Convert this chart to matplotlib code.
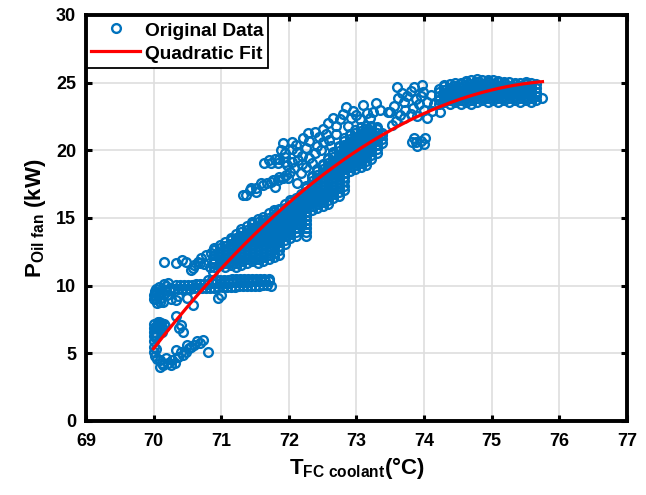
import numpy as np
import matplotlib
matplotlib.use("Agg")
import matplotlib.pyplot as plt

# ============ data ============
# bottom-left group (4-8 kW)
low_x = [70.00, 70.00, 70.00, 70.04, 70.05, 70.06, 70.09, 70.10, 70.13, 70.15, 70.02, 70.00, 70.00, 70.01, 70.02, 70.04, 70.05,
         70.02, 70.07, 70.12, 70.08, 70.03, 70.11, 70.17, 70.00,
         70.33, 70.41, 70.43, 70.38,
         70.09, 70.14, 70.21, 70.26, 70.28, 70.09, 70.19, 70.36, 70.43, 70.48, 70.53, 70.60, 70.68, 70.73, 70.80,
         70.33, 70.56, 70.64, 70.40, 70.50, 70.12, 70.31]
low_y = [6.6, 6.9, 7.2, 6.5, 7.0, 7.3, 6.7, 7.1, 6.9, 7.2, 6.2, 5.9, 5.5, 5.1, 4.8, 5.3, 4.6,
         6.35, 6.8, 6.6, 7.35, 7.05, 7.25, 7.0, 6.3,
         7.76, 7.1, 6.6, 6.9,
         4.01, 4.14, 4.26, 4.14, 4.51, 4.5, 4.63, 4.75, 4.88, 5.12, 5.37, 5.62, 5.74, 5.99, 5.12,
         5.25, 5.5, 5.9, 5.1, 5.6, 4.3, 4.3]

# band around 10 kW
band_x = [70.00, 70.00, 70.02, 70.05, 70.06, 70.08, 70.10, 70.12, 70.14, 70.15, 70.18, 70.20, 70.22, 70.25,
          70.03, 70.04, 70.09, 70.11, 70.16, 70.19, 70.03,
          70.30, 70.36, 70.42, 70.48, 70.54, 70.60, 70.66, 70.72, 70.78, 70.84, 70.90, 70.96, 71.02,
          71.08, 71.14, 71.20, 71.26, 71.32, 71.38, 71.44, 71.50, 71.56, 71.62, 71.68, 71.73,
          70.33, 70.39, 70.45, 70.51, 70.57, 70.63, 70.69, 70.75, 70.81, 70.87, 70.93, 70.99,
          71.05, 71.11, 71.17, 71.23, 71.29, 71.35, 71.41, 71.47, 71.53, 71.59, 71.65, 71.71,
          70.80, 70.86, 70.92, 70.98, 71.04, 71.10, 71.16, 71.22, 71.28, 71.34, 71.40, 71.46,
          71.52, 71.58, 71.64, 71.70,
          70.33, 70.36, 70.58, 70.95, 71.00, 70.50, 70.26]
band_y = [9.3, 9.0, 9.6, 8.7, 9.2, 9.9, 8.8, 9.5, 8.82, 10.1, 9.7, 9.3, 10.2, 9.8,
          9.45, 9.0, 9.35, 9.1, 9.4, 9.95, 9.75,
          9.72, 9.74, 9.76, 9.76, 9.78, 9.8, 9.8, 9.82, 9.84, 9.83, 9.86, 9.88, 9.88,
          9.9, 9.92, 9.92, 9.94, 9.96, 9.96, 9.98, 10.0, 10.0, 10.02, 10.03, 10.0,
          10.02, 10.04, 10.05, 10.07, 10.08, 10.1, 10.12, 10.13, 10.15, 10.16, 10.18, 10.2,
          10.21, 10.22, 10.24, 10.25, 10.27, 10.28, 10.3, 10.31, 10.32, 10.33, 10.34, 10.35,
          10.4, 10.41, 10.42, 10.43, 10.44, 10.45, 10.46, 10.47, 10.48, 10.49, 10.5, 10.5,
          10.51, 10.52, 10.52, 10.5,
          8.94, 9.2, 8.57, 9.07, 9.3, 9.1, 9.0]

# loose circles at 11-12.5 kW, left of the main cloud
ul_x = [70.16, 70.33, 70.42, 70.48, 70.56, 70.60, 70.65, 70.70, 70.74, 70.78, 70.83, 70.85, 70.88,
        70.58, 70.68, 70.90, 70.97]
ul_y = [11.77, 11.66, 11.9, 11.77, 11.16, 11.5, 11.77, 12.03, 11.6, 12.27, 11.4, 12.4, 11.03,
        11.28, 11.65, 11.77, 11.53]

# main dense cloud, column by column
cloud_cols = [70.90, 70.98, 71.06, 71.14, 71.22, 71.30, 71.38, 71.46, 71.54, 71.62, 71.70, 71.78,
              71.86, 71.94, 72.02, 72.10, 72.18, 72.26, 72.34, 72.42, 72.50, 72.58, 72.66, 72.74,
              72.82, 72.90, 72.98, 73.06, 73.14, 73.22, 73.30, 73.38]
cloud_rows = [
    [11.4, 11.7, 12.0, 12.3, 12.6, 12.8],
    [11.55, 11.85, 12.15, 12.45, 12.75, 13.0],
    [11.4, 11.7, 12.0, 12.3, 12.6, 12.9, 13.25],
    [11.55, 11.85, 12.15, 12.45, 12.75, 13.05, 13.35, 13.5],
    [11.4, 11.7, 12.0, 12.3, 12.6, 12.9, 13.2, 13.5, 13.8],
    [11.55, 11.85, 12.15, 12.45, 12.75, 13.05, 13.35, 13.65, 13.95, 14.2],
    [11.7, 12.0, 12.3, 12.6, 12.9, 13.2, 13.5, 13.8, 14.1, 14.4],
    [11.85, 12.15, 12.45, 12.75, 13.05, 13.35, 13.65, 13.95, 14.25, 14.55, 14.7],
    [11.7, 12.0, 12.3, 12.6, 12.9, 13.2, 13.5, 13.8, 14.1, 14.4, 14.7, 14.9],
    [11.85, 12.15, 12.45, 12.75, 13.05, 13.35, 13.65, 13.95, 14.25, 14.55, 14.85, 15.1],
    [12.0, 12.3, 12.6, 12.9, 13.2, 13.5, 13.8, 14.1, 14.4, 14.7, 15.0, 15.35],
    [12.15, 12.45, 12.75, 13.05, 13.35, 13.65, 13.95, 14.25, 14.55, 14.85, 15.15, 15.45, 15.6],
    [12.3, 12.6, 12.9, 13.2, 13.5, 13.8, 14.1, 14.4, 14.7, 15.0, 15.3, 15.6, 15.7],
    [13.05, 13.35, 13.65, 13.95, 14.25, 14.55, 14.85, 15.15, 15.45, 15.75, 16.0],
    [13.5, 13.8, 14.1, 14.4, 14.7, 15.0, 15.3, 15.6, 15.9, 16.2, 16.3],
    [13.65, 13.95, 14.25, 14.55, 14.85, 15.15, 15.45, 15.75, 16.05, 16.35, 16.5],
    [14.4, 14.7, 15.0, 15.3, 15.6, 15.9, 16.2, 16.5, 16.8],
    [13.65, 13.95, 14.25, 14.55, 14.85, 15.15, 15.45, 15.75, 16.05, 16.35, 16.65, 16.95, 17.25, 17.4],
    [15.6, 15.9, 16.2, 16.5, 16.8, 17.1, 17.4, 17.7, 18.0, 18.1],
    [15.75, 16.05, 16.35, 16.65, 16.95, 17.25, 17.55, 17.85, 18.15, 18.45, 18.6],
    [15.9, 16.2, 16.5, 16.8, 17.1, 17.4, 17.7, 18.0, 18.3, 18.6, 18.9, 19.0],
    [16.05, 16.35, 16.65, 16.95, 17.25, 17.55, 17.85, 18.15, 18.45, 18.75, 19.05, 19.35, 19.4],
    [16.5, 16.8, 17.1, 17.4, 17.7, 18.0, 18.3, 18.6, 18.9, 19.2, 19.5, 19.8, 19.9],
    [16.65, 16.95, 17.25, 17.55, 17.85, 18.15, 18.45, 18.75, 19.05, 19.35, 19.65, 19.95, 20.25, 20.3],
    [17.1, 17.4, 17.7, 18.0, 18.3, 18.6, 18.9, 19.2, 19.5, 19.8, 20.1, 20.4, 20.7, 20.9],
    [18.45, 18.75, 19.05, 19.35, 19.65, 19.95, 20.25, 20.55, 20.85, 21.15, 21.2],
    [18.6, 18.9, 19.2, 19.5, 19.8, 20.1, 20.4, 20.7, 21.0, 21.3, 21.5],
    [18.75, 19.05, 19.35, 19.65, 19.95, 20.25, 20.55, 20.85, 21.15, 21.45, 21.7],
    [18.9, 19.2, 19.5, 19.8, 20.1, 20.4, 20.7, 21.0, 21.3, 21.6, 21.8],
    [19.35, 19.65, 19.95, 20.25, 20.55, 20.85, 21.15, 21.45, 21.75, 21.8],
    [19.8, 20.1, 20.4, 20.7, 21.0, 21.3, 21.6, 21.7],
    [20.55, 20.85, 21.15, 21.3],
]

# sparser streaks above the main cloud
streak_x = [71.32, 71.37, 71.42, 71.44, 71.52, 71.52, 71.59, 71.62, 71.67, 71.74, 71.79, 71.84, 71.91, 71.99,
            71.76, 71.86, 71.96, 72.01,
            71.64, 71.71, 71.74, 71.79, 71.84, 71.86, 71.94, 71.94, 72.04, 72.13,
            71.88, 71.95, 72.05, 72.12, 72.20, 72.25,
            71.91, 72.04, 72.11, 72.21, 72.28, 72.38, 72.30, 72.45,
            72.18, 72.25, 72.30, 72.38, 72.42, 72.48, 72.20, 72.35, 72.50, 72.55, 72.60, 72.50,
            72.58, 72.65, 72.70, 72.75, 72.85, 72.80, 72.92, 73.00, 73.09, 73.15, 73.24, 73.29, 73.20, 73.05,
            72.95, 73.35, 72.12, 72.07, 71.98, 72.62, 72.70, 72.88]
streak_y = [16.7, 16.7, 17.07, 17.2, 16.95, 17.2, 17.57, 17.44, 17.57, 17.69, 17.32, 17.81, 17.94, 17.94,
            17.81, 18.06, 18.18, 18.43,
            19.05, 19.3, 19.05, 19.34, 19.1, 19.39, 19.17, 19.53, 19.17, 19.3,
            20.0, 19.8, 20.1, 19.9, 19.6, 20.2,
            20.52, 20.64, 20.4, 20.9, 21.26, 21.38, 20.7, 21.0,
            18.3, 18.8, 19.4, 19.8, 20.3, 20.0, 19.0, 19.1, 20.6, 21.2, 20.8, 21.6,
            22.0, 22.37, 21.8, 22.3, 23.23, 22.7, 22.4, 22.62, 23.36, 22.74, 22.86, 23.48, 22.4, 22.3,
            22.9, 23.0, 17.6, 18.7, 18.9, 20.3, 21.2, 21.8]

# group between 73.4 and 74.2 deg C, and the small one near 20.5 kW
mid_x = [73.60, 73.97, 73.99, 73.46, 73.64, 74.23, 73.84, 73.49, 73.55, 73.70, 73.75, 73.80, 73.68, 73.88,
         73.92, 74.00, 74.05, 74.10, 73.62, 73.72, 73.58, 73.70, 73.80, 73.90, 74.05, 74.12, 73.95, 73.85,
         74.15, 73.52,
         73.85, 73.95, 74.00, 73.90, 74.02, 73.88, 73.82]
mid_y = [24.7, 24.8, 24.3, 22.8, 22.6, 22.8, 23.1, 22.8, 23.3, 23.6, 24.0, 24.4, 24.2, 23.8,
         23.4, 23.0, 23.6, 24.1, 23.9, 23.0, 22.2, 22.4, 22.7, 22.5, 22.4, 22.9, 24.0, 24.7,
         23.4, 21.9,
         20.9, 20.7, 20.5, 20.3, 20.9, 20.6, 20.6]

# right dense group, column by column
right_cols = [74.22, 74.30, 74.38, 74.46, 74.54, 74.62, 74.70, 74.78, 74.86, 74.94, 75.02, 75.10,
              75.18, 75.26, 75.34, 75.42, 75.50, 75.58, 75.66, 75.75]
right_rows = [
    [23.4, 23.7, 24.0, 24.3, 24.5],
    [23.55, 23.85, 24.15, 24.45, 24.75, 24.8],
    [23.4, 23.7, 24.0, 24.3, 24.6, 24.9],
    [23.55, 23.85, 24.15, 24.45, 24.75, 24.95],
    [23.4, 23.7, 24.0, 24.3, 24.6, 24.9, 25.0],
    [23.55, 23.85, 24.15, 24.45, 24.75, 25.05, 25.1],
    [23.4, 23.7, 24.0, 24.3, 24.6, 24.9, 25.2],
    [23.55, 23.85, 24.15, 24.45, 24.75, 25.05, 25.25],
    [23.7, 24.0, 24.3, 24.6, 24.9, 25.2],
    [23.55, 23.85, 24.15, 24.45, 24.75, 25.05, 25.2],
    [23.7, 24.0, 24.3, 24.6, 24.9, 25.2],
    [23.55, 23.85, 24.15, 24.45, 24.75, 25.05, 25.15],
    [23.7, 24.0, 24.3, 24.6, 24.9, 25.05],
    [23.55, 23.85, 24.15, 24.45, 24.75, 25.05],
    [23.7, 24.0, 24.3, 24.6, 24.9, 25.0],
    [23.55, 23.85, 24.15, 24.45, 24.75, 25.0],
    [23.7, 24.0, 24.3, 24.6, 24.9, 25.05],
    [23.55, 23.85, 24.15, 24.45, 24.75, 24.95],
    [23.7, 24.0, 24.3, 24.6, 24.9],
    [23.9],
]

# quadratic fit: y = c2*(x-x0)^2 + c1*(x-x0) + c0
fit_x0 = 70.0
fit_coef = [-0.522, 6.432, 5.35]

x_ticks = [69, 70, 71, 72, 73, 74, 75, 76, 77]
y_ticks = [0, 5, 10, 15, 20, 25, 30]


def _columns(cols, rows):
    xs = np.concatenate([np.full(len(r), c) for c, r in zip(cols, rows)])
    ys = np.concatenate([np.asarray(r, dtype=float) for r in rows])
    return xs, ys


cx, cy = _columns(cloud_cols, cloud_rows)
rx, ry = _columns(right_cols, right_rows)
x_all = np.concatenate([low_x, band_x, ul_x, cx, streak_x, mid_x, rx])
y_all = np.concatenate([low_y, band_y, ul_y, cy, streak_y, mid_y, ry])

xf = np.linspace(x_all.min(), x_all.max(), 200)
yf = np.polyval(fit_coef, xf - fit_x0)

# ============ figure ============
plt.rcParams.update({
    "font.family": "Liberation Sans",
    "font.weight": "bold",
    "mathtext.fontset": "custom",
    "mathtext.rm": "Liberation Sans:bold",
    "mathtext.it": "Liberation Sans:bold",
    "mathtext.bf": "Liberation Sans:bold",
})

fig = plt.figure(figsize=(6.46, 4.95), dpi=100)
ax = fig.add_axes([0.133, 0.1495, 0.8376, 0.8202])

blue = "#0072BD"
ax.plot(x_all, y_all, "o", mfc="none", mec=blue, ms=6.3, mew=1.7, ls="none",
        label="Original Data", zorder=3)
ax.plot(xf, yf, color="#FF0000", lw=2.3, label="Quadratic Fit", zorder=4)

ax.set_xlim(69, 77)
ax.set_ylim(0, 30)
ax.set_xticks(x_ticks)
ax.set_yticks(y_ticks)
ax.grid(True, color="#dedede", lw=1.2)
ax.set_axisbelow(True)

ax.tick_params(direction="in", length=4.5, width=2.2, top=True, right=True,
               labelsize=13, pad=7)
ax.tick_params(axis="x", pad=8.5)
for lab in ax.get_xticklabels() + ax.get_yticklabels():
    lab.set_fontweight("bold")
for sp in ax.spines.values():
    sp.set_linewidth(2.8)
    sp.set_zorder(6)

ax.set_xlabel(r"$\mathrm{T_{FC\ coolant}}$(°C)", fontsize=16, fontweight="bold", labelpad=4)
ax.set_ylabel(r"$\mathrm{P_{Oil\ fan}}$ (kW)", fontsize=16, fontweight="bold", labelpad=6)

leg = ax.legend(loc="upper left", borderaxespad=0, frameon=True, fancybox=False,
                edgecolor="black", framealpha=1, handlelength=2.55, handletextpad=0.23,
                handleheight=1.1, borderpad=0.28, labelspacing=0.16,
                prop={"size": 13.8, "weight": "bold"})
leg.get_frame().set_linewidth(1.3)

fig.savefig("out.png", dpi=100)
